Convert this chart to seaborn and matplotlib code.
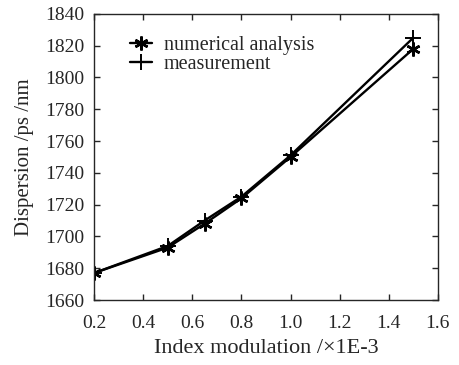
import numpy as np
import pandas as pd
import matplotlib
matplotlib.use("Agg")
import matplotlib.pyplot as plt
import seaborn as sns

# values
index_mod = [0.2, 0.5, 0.65, 0.8, 1.0, 1.5]
numerical = [1677, 1693, 1708, 1724, 1750, 1818]
measured = [1677, 1694, 1710, 1725, 1751, 1825]

sns.set_style("ticks")
plt.rcParams["font.family"] = ["Liberation Serif", "DejaVu Serif"]

df_num = pd.DataFrame({"x": index_mod, "y": numerical})
df_meas = pd.DataFrame({"x": index_mod, "y": measured})

fig = plt.figure(figsize=(4.59, 3.65), dpi=100)
ax = fig.add_axes([0.205, 0.178, 0.749, 0.784])

# seaborn gives markers a white edge by default, so force black
sns.lineplot(data=df_num, x="x", y="y", color="black", marker=(6, 2, 0),
             markersize=10, markeredgewidth=1.8, markeredgecolor="black",
             linewidth=1.7, label="numerical analysis", ax=ax)
sns.lineplot(data=df_meas, x="x", y="y", color="black", marker="+",
             markersize=12, markeredgewidth=1.4, markeredgecolor="black",
             linewidth=1.7, label="measurement", ax=ax)

ax.set_xlim(0.2, 1.6)
ax.set_ylim(1660, 1840)
ticks_x = np.arange(0.2, 1.61, 0.2)
ax.set_xticks(ticks_x)
ax.set_xticklabels([f"{v:.1f}" for v in ticks_x])
ax.set_yticks(np.arange(1660, 1841, 20))
ax.tick_params(direction="in", top=True, right=True, labelsize=14, length=4, width=1)
ax.tick_params(axis="x", pad=11)
ax.tick_params(axis="y", pad=7)
for s in ax.spines.values():
    s.set_linewidth(1)
    s.set_visible(True)

ax.set_xlabel("Index modulation /×1E-3", fontsize=16, labelpad=5)
ax.set_ylabel("Dispersion /ps /nm", fontsize=15, labelpad=8)

ax.legend(loc="upper left", bbox_to_anchor=(0.08, 0.95), frameon=False,
          fontsize=14.5, handlelength=1.1, handletextpad=0.6,
          labelspacing=0.0, borderaxespad=0)

fig.savefig("out.png", dpi=100)
